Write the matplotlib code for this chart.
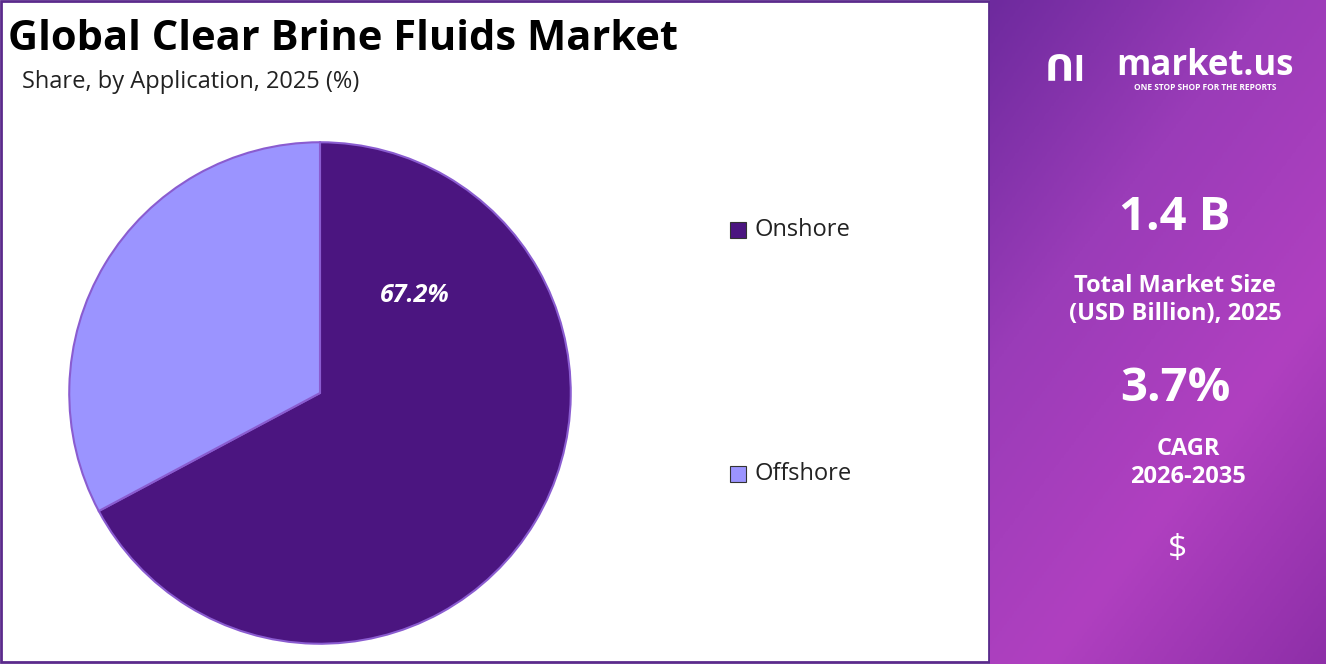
import numpy as np
import matplotlib.pyplot as plt
from matplotlib.patches import Rectangle
from matplotlib.colors import LinearSegmentedColormap

labels = ["Onshore", "Offshore"]
shares = [67.2, 32.8]
colors = ["#4B1580", "#9B94FF"]
market_size = "1.4 B"
cagr = "3.7%"

W, H = 1326, 664
fig = plt.figure(figsize=(W / 100, H / 100), dpi=100)
plt.rcParams['font.family'] = ['Open Sans', 'DejaVu Sans']

# background frame
bg = fig.add_axes([0, 0, 1, 1])
bg.set_xlim(0, W)
bg.set_ylim(H, 0)
bg.axis("off")
bg.add_patch(Rectangle((1, 1), 988, H - 3, facecolor="white", edgecolor="#5B2A8C", lw=2))

# right panel gradient
rp = fig.add_axes([990 / W, 0, (W - 990) / W, 1])
cm = LinearSegmentedColormap.from_list("p", ["#6E2A9E", "#9A3CB8", "#B040C0", "#8E2FA8"])
X, Y = np.meshgrid(np.linspace(0, 1, 200), np.linspace(0, 1, 200))
rp.imshow(0.6 * Y + 0.4 * X, cmap=cm, aspect="auto", extent=[0, 1, 0, 1], origin="upper")
rp.set_xlim(0, 1)
rp.set_ylim(0, 1)
rp.axis("off")

def px(x, y):
    return ((x - 990) / (W - 990), 1 - y / H)

rp.text(*px(1205, 66), "market.us", color="white", fontsize=25, fontweight="bold", ha="center", va="center")
rp.text(*px(1205, 88), "ONE STOP SHOP FOR THE REPORTS", color="white", fontsize=6, fontweight="bold", ha="center", va="center")
rp.text(*px(1065, 72), "ᑎI", color="white", fontsize=26, fontweight="bold", ha="center", va="center")
rp.text(*px(1175, 218), market_size, color="white", fontsize=34, fontweight="bold", ha="center", va="center")
rp.text(*px(1175, 300), "Total Market Size\n(USD Billion), 2025", color="white", fontsize=17, fontweight="bold",
        ha="center", va="center", linespacing=1.25)
rp.text(*px(1175, 388), cagr, color="white", fontsize=34, fontweight="bold", ha="center", va="center")
rp.text(*px(1188, 463), "CAGR\n2026-2035", color="white", fontsize=17, fontweight="bold",
        ha="center", va="center", linespacing=1.25)
rp.text(*px(1177, 550), "$", color="white", fontsize=24, ha="center", va="center")

# titles
fig.text(8 / W, 1 - 40 / H, "Global Clear Brine Fluids Market", fontsize=30, fontweight="bold", color="black", va="center")
fig.text(22 / W, 1 - 82 / H, "Share, by Application, 2025 (%)", fontsize=17, color="#222222", va="center")

# pie
cx, cy, r = 320, 393, 252
ax = fig.add_axes([(cx - r) / W, (H - cy - r) / H, 2 * r / W, 2 * r / H])
ax.pie(shares, colors=colors, startangle=90, counterclock=False,
       wedgeprops=dict(edgecolor="#8A5CD0", linewidth=1.5))
ax.set_xlim(-1.005, 1.005)
ax.set_ylim(-1.005, 1.005)
ax.set_aspect("equal")
ax.text(0.38, 0.39, f"{shares[0]}%", color="white", fontsize=18, fontweight="bold",
        fontstyle="italic", ha="center", va="center")

# legend
for lab, col, y in zip(labels, colors, [230, 474]):
    bg.add_patch(Rectangle((730, y - 8), 16, 16, facecolor=col, edgecolor="#333333", lw=0.8))
    bg.text(755, y, lab, fontsize=17, color="#222222", va="center")

fig.savefig("out.png", dpi=100)
